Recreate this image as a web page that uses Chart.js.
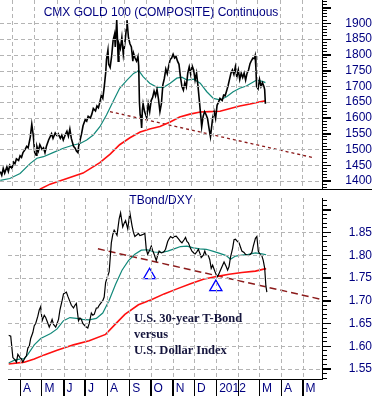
<!DOCTYPE html>
<html>
<head>
<meta charset="utf-8">
<script src="https://cdn.jsdelivr.net/npm/chart.js@4.4.0/dist/chart.umd.min.js"></script>
<style>
html,body{margin:0;padding:0;background:#fff;}
#wrap{position:relative;width:372px;height:396px;overflow:hidden;background:#fff;}
canvas{position:absolute;left:0;z-index:1;background:transparent !important;}
#c1{top:0;}
#c2{top:190px;}
#sep{position:absolute;left:0;top:189px;width:372px;height:1px;background:#000;z-index:3;}
.gv{position:absolute;width:1px;z-index:2;pointer-events:none;background:repeating-linear-gradient(to bottom,#b4b4b4 0,#b4b4b4 4px,rgba(0,0,0,0) 4px,rgba(0,0,0,0) 7px);}
.gh{position:absolute;height:1px;z-index:2;pointer-events:none;background:repeating-linear-gradient(to right,#b4b4b4 0,#b4b4b4 4px,rgba(0,0,0,0) 4px,rgba(0,0,0,0) 7px);}
.tk{position:absolute;background:#000;z-index:3;}
.t{position:absolute;font-family:"Liberation Sans",Arial,sans-serif;font-size:12px;line-height:14px;color:#000080;white-space:nowrap;text-align:center;z-index:4;}
#note{position:absolute;left:134px;top:310px;font-family:"Liberation Serif","Times New Roman",serif;font-weight:bold;font-size:12.5px;line-height:16px;color:#14143c;white-space:nowrap;z-index:4;}
#err{position:absolute;left:0;top:30px;width:300px;font:9px monospace;color:#c00;white-space:pre-wrap;word-break:break-all;z-index:9;}
</style>
</head>
<body>
<div id="wrap">
  <canvas id="c1" width="372" height="189"></canvas>
  <div id="sep"></div>
  <canvas id="c2" width="372" height="206"></canvas>
  <div class="t" style="left:0;width:322px;top:5px;">CMX GOLD 100 (COMPOSITE) Continuous</div>
  <div class="t" style="left:0;width:322px;top:193px;">TBond/DXY</div>
  <div id="note">U.S. 30-year T-Bond<br>versus<br>U.S. Dollar Index</div>
  <div id="err"></div>
</div>
<script>
const errors = [];
window.addEventListener('error', e => { errors.push('win: ' + e.message); showErrors(); });
function showErrors() { document.getElementById('err').textContent = errors.join('\n'); }

// x values are calendar days counted from 1 March 2011 (day 0)
const monthDays   = [31, 61, 92, 122, 153, 184, 214, 245, 275, 306, 337, 366, 397, 427];
const monthLabels = ['A', 'M', 'J', 'J', 'A', 'S', 'O', 'N', 'D', '2012', '', 'M', 'A', 'M'];

// ---- Gold (top panel) ----
const goldDays = [15,17,19,21,24,26,28,31,33,35,37,40,42,44,46,49,51,53,56,58,60,62,64,65,67,69,72,74,76,78,81,83,85,87,90,92,94,97,99,101,104,106,108,110,112,115,117,119,121,122,124,126,128,131,133,135,138,140,142,145,147,149,151,153,155,157,159,160,162,163,165,167,169,171,172,174,175,176,177,179,181,183,185,187,188,190,192,194,196,197,199,201,203,204,205,206,207,208,209,210,212,215,217,219,221,223,225,227,229,231,233,235,237,239,241,243,245,247,249,251,253,255,257,259,261,263,265,267,269,271,273,275,277,279,281,283,285,287,289,290,292,294,296,298,300,302,303,305,307,309,311,313,315,318,320,322,324,326,328,330,332,334,336,338,340,342,344,346,348,350,352,354,356,358,360,362,363,364,365,367,369,371,373,375,376,377];
const goldClose = [1430,1418,1440,1425,1445,1430,1450,1440,1460,1455,1470,1465,1480,1475,1490,1500,1510,1505,1540,1580,1545,1490,1482,1510,1495,1515,1500,1505,1490,1510,1530,1540,1550,1535,1552,1545,1550,1535,1545,1530,1548,1558,1542,1565,1535,1510,1505,1495,1490,1510,1530,1550,1575,1595,1590,1605,1600,1612,1630,1622,1638,1632,1650,1672,1662,1700,1745,1785,1815,1770,1760,1795,1845,1865,1825,1910,1850,1780,1835,1820,1855,1800,1835,1880,1910,1855,1835,1825,1780,1805,1790,1780,1795,1765,1650,1610,1600,1568,1625,1645,1620,1600,1645,1620,1655,1665,1685,1670,1690,1660,1620,1645,1705,1725,1755,1740,1765,1785,1790,1802,1790,1795,1780,1770,1730,1700,1688,1712,1698,1742,1762,1738,1765,1752,1720,1742,1700,1650,1600,1572,1605,1620,1610,1598,1568,1540,1560,1600,1620,1598,1640,1650,1662,1655,1672,1670,1685,1702,1722,1742,1752,1738,1762,1730,1752,1722,1742,1728,1742,1720,1742,1752,1772,1782,1790,1788,1797,1760,1700,1692,1722,1700,1712,1700,1690,1645];
const goldMa50Days = [15,28,42,56,65,74,87,101,115,124,133,142,151,160,169,178,188,197,204,210,219,229,238,247,256,263,270,279,288,297,306,315,324,333,342,351,361,365,374,377];
const goldMa50     = [1402,1408,1424,1456,1472,1477,1490,1504,1514,1519,1530,1546,1572,1609,1652,1694,1720,1741,1750,1731,1710,1697,1697,1710,1726,1729,1720,1723,1710,1683,1662,1657,1667,1683,1694,1701,1715,1720,1715,1712];
const goldMa200Days = [69,83,106,128,151,165,178,192,206,219,233,247,260,274,288,301,315,329,342,356,370,377];
const goldMa200     = [1374,1390,1408,1425,1458,1485,1515,1537,1555,1565,1573,1587,1603,1612,1619,1620,1621,1630,1638,1644,1651,1654];
const goldTrendDays = [164.8, 440.6];
const goldTrend     = [1620, 1475];
const goldMajorTicks = [1400,1450,1500,1550,1600,1650,1700,1750,1800,1850,1900,1950];
const goldLabelMax = 1900;

// ---- T-Bond / DXY ratio (bottom panel) ----
const ratioDays = [15,18,21,24,26,28,31,33,35,38,40,42,44,46,49,51,53,56,58,60,62,65,67,69,72,74,76,78,81,83,85,87,90,92,96,98,101,103,106,108,110,113,115,117,119,122,124,126,128,131,133,135,138,140,142,144,147,149,151,153,156,159,161,163,165,167,170,172,175,177,179,182,185,188,190,192,195,197,199,201,204,206,208,210,213,215,217,219,222,224,226,229,231,233,235,238,240,242,245,247,250,252,254,256,258,261,263,265,267,270,272,274,276,279,281,283,285,288,290,292,295,297,299,301,304,306,308,310,313,315,317,320,322,324,326,329,331,333,336,338,340,342,345,347,349,351,354,356,358,361,363,365,368,370,372,374,375.6,377];
const ratioValues = [1.624,1.622,1.575,1.570,1.565,1.582,1.575,1.572,1.565,1.575,1.579,1.596,1.600,1.617,1.630,1.645,1.650,1.666,1.680,1.687,1.656,1.668,1.663,1.655,1.642,1.650,1.659,1.648,1.642,1.650,1.659,1.680,1.700,1.715,1.719,1.710,1.698,1.690,1.684,1.690,1.694,1.656,1.662,1.659,1.650,1.645,1.642,1.640,1.650,1.673,1.668,1.670,1.684,1.684,1.690,1.694,1.700,1.708,1.740,1.750,1.764,1.827,1.845,1.855,1.850,1.844,1.880,1.893,1.862,1.870,1.876,1.858,1.893,1.865,1.850,1.841,1.845,1.848,1.843,1.844,1.846,1.848,1.813,1.802,1.812,1.820,1.810,1.802,1.788,1.800,1.809,1.805,1.806,1.808,1.813,1.830,1.836,1.841,1.838,1.841,1.842,1.838,1.834,1.830,1.827,1.834,1.839,1.830,1.827,1.815,1.809,1.806,1.802,1.808,1.813,1.805,1.795,1.800,1.809,1.800,1.799,1.790,1.771,1.778,1.765,1.757,1.753,1.760,1.771,1.778,1.785,1.775,1.767,1.775,1.795,1.815,1.834,1.835,1.830,1.827,1.818,1.809,1.806,1.802,1.800,1.799,1.802,1.806,1.820,1.837,1.841,1.809,1.800,1.799,1.788,1.771,1.733,1.719];
const ratioMa50Days = [15,24,33,37,42,51,60,74,83,92,101,110,119,128,138,147,156,165,174,183,192,201,210,219,229,238,247,256,265,274,283,292,301,311,320,326,333,342,351,361,370,376];
const ratioMa50     = [1.563,1.570,1.572,1.572,1.582,1.603,1.617,1.628,1.638,1.656,1.663,1.661,1.659,1.658,1.661,1.673,1.701,1.736,1.767,1.788,1.802,1.811,1.812,1.807,1.806,1.809,1.814,1.819,1.820,1.816,1.814,1.813,1.809,1.804,1.799,1.791,1.798,1.800,1.802,1.805,1.803,1.801];
const ratioMa200Days = [15,37,51,65,83,106,128,151,165,178,197,215,233,251,270,288,306,324,342,361,374,376];
const ratioMa200     = [1.561,1.565,1.572,1.581,1.591,1.603,1.612,1.626,1.649,1.670,1.691,1.702,1.715,1.726,1.737,1.747,1.753,1.758,1.762,1.765,1.770,1.770];
const ratioTrendDays = [140.2, 456];
const ratioTrend     = [1.814, 1.702];
const markerDays   = [212.6, 305.5];
const markerValues = [1.756, 1.730];
const ratioMajorTicks = [155,160,165,170,175,180,185,190].map(v => v / 100);
const ratioLabelMax = 1.85;

// ---- helpers ----
const FONT = '"Liberation Sans", Arial, sans-serif';
const X_MIN = 14.6, X_MAX = 454.3;
const pts = (xs, ys) => xs.map((x, i) => ({x: x, y: ys[i]}));
const range = (a, b, step, div) => { const r = []; for (let v = a; v <= b; v += step) r.push(v / div); return r; };

function xScale(bottom) {
  return {
    type: 'linear', position: 'bottom', min: X_MIN, max: X_MAX,
    afterBuildTicks: s => { s.ticks = monthDays.map(v => ({value: v})); },
    afterFit: s => { s.height = bottom ? 17 : 0; s.paddingLeft = 0; s.paddingRight = 0; },
    grid: { display: true, drawOnChartArea: false, lineWidth: 1,
            drawTicks: bottom, tickLength: 17, tickColor: '#000', tickWidth: 1, tickBorderDash: [] },
    border: { display: bottom, color: '#000', width: 1 },
    ticks: { display: bottom, autoSkip: false, maxRotation: 0, minRotation: 0, align: 'start',
             labelOffset: 3, padding: -15, color: '#000080', font: {family: FONT, size: 12},
             callback: (v, i) => monthLabels[i] }
  };
}
function yScales(min, max, majorTicks, minorTicks, labelMax, fmt, pad) {
  return {
    yMinor: {
      type: 'linear', position: 'right', weight: 0, min: min, max: max,
      afterBuildTicks: s => { s.ticks = minorTicks.map(v => ({value: v})); },
      afterFit: s => { s.width = 5; s.paddingTop = 0; s.paddingBottom = 0; },
      grid: { drawOnChartArea: false, drawTicks: true, tickLength: 5, tickColor: '#000', tickWidth: 1, tickBorderDash: [] },
      border: { display: true, color: '#000', width: 1 },
      ticks: { display: false }
    },
    y: {
      type: 'linear', position: 'right', weight: 1, min: min, max: max,
      afterBuildTicks: s => { s.ticks = majorTicks.map(v => ({value: v})); },
      afterFit: s => { s.width = 45; s.paddingTop = 0; s.paddingBottom = 0; },
      grid: { drawOnChartArea: false, lineWidth: 1,
              drawTicks: true, tickLength: 4, tickColor: '#000', tickWidth: 1, tickBorderDash: [] },
      border: { display: false },
      ticks: { display: true, autoSkip: false, crossAlign: 'far', padding: pad, color: '#000080',
               font: {family: FONT, size: 12},
               callback: v => (v > labelMax + 1e-9) ? '' : fmt(v) }
    }
  };
}
const lineDs = (data, color, width, dash) => {
  const ds = { type: 'line', data: data, borderColor: color, borderWidth: width,
               pointRadius: 0, tension: 0, fill: false, yAxisID: 'y', xAxisID: 'x' };
  if (dash) ds.borderDash = dash;
  return ds;
};
const common = {
  responsive: false, animation: false, devicePixelRatio: 1, events: [],
  layout: { padding: 0 },
  plugins: { legend: { display: false }, tooltip: { enabled: false }, title: { display: false } }
};

// dashed grid and axis ticks, positioned from the chart's own scales
function addGrid(chart, canvasTop, majorTicks, labelMax, monthTicks) {
  const wrap = document.getElementById('wrap');
  const a = chart.chartArea, xs = chart.scales.x, ys = chart.scales.y;
  const el = (cls, l, t, w, h) => {
    const d = document.createElement('div');
    d.className = cls;
    d.style.left = l + 'px'; d.style.top = t + 'px';
    if (w !== null) d.style.width = w + 'px';
    if (h !== null) d.style.height = h + 'px';
    wrap.appendChild(d);
  };
  monthDays.forEach(day => {
    const x = Math.round(xs.getPixelForValue(day));
    if (x <= a.left || x >= a.right) return;
    el('gv', x, canvasTop + Math.round(a.top), null, Math.round(a.bottom - a.top));
    if (monthTicks) el('tk', x, canvasTop + Math.round(a.bottom), 1, 17);
  });
  majorTicks.forEach(v => {
    const y = Math.round(ys.getPixelForValue(v));
    if (v <= labelMax + 1e-9) el('gh', Math.round(a.left), canvasTop + y, Math.round(a.right - a.left), null);
    el('tk', Math.round(a.right), canvasTop + y, 9, 1);
  });
}
function makeChart(id, cfg) {
  let ch = null;
  try { ch = new Chart(document.getElementById(id), cfg); }
  catch (e) { errors.push(id + ': ' + e.message); ch = Chart.getChart(id); }
  return ch;
}

// ---- top chart: gold ----
const chartTop = makeChart('c1', {
  type: 'line',
  data: { datasets: [
    lineDs(pts(goldDays, goldClose), '#000000', 1.6),
    lineDs(pts(goldMa50Days, goldMa50), '#12897a', 1.2),
    lineDs(pts(goldMa200Days, goldMa200), '#ff1010', 1.6),
    lineDs(pts(goldTrendDays, goldTrend), '#8b1a1a', 1.3, [3, 3])
  ]},
  options: Object.assign({}, common, {
    scales: Object.assign({ x: xScale(false) },
      yScales(1374.6, 1973.9, goldMajorTicks, range(1380, 1970, 10, 1), goldLabelMax, v => String(Math.round(v)), 8))
  })
});
try { addGrid(chartTop, 0, goldMajorTicks, goldLabelMax, false); } catch (e) { errors.push('grid1: ' + e.message); }

// ---- bottom chart: T-Bond / DXY ----
const chartBottom = makeChart('c2', {
  type: 'line',
  data: { datasets: [
    { type: 'line', data: pts(markerDays, markerValues), showLine: false, pointStyle: 'triangle',
      pointRadius: 7, pointBorderColor: '#0000ff', pointBackgroundColor: 'rgba(0,0,0,0)',
      pointBorderWidth: 1.3, yAxisID: 'y', xAxisID: 'x' },
    lineDs(pts(ratioDays, ratioValues), '#000000', 1.2),
    lineDs(pts(ratioMa50Days, ratioMa50), '#12897a', 1.2),
    lineDs(pts(ratioMa200Days, ratioMa200), '#ff1010', 1.6),
    lineDs(pts(ratioTrendDays, ratioTrend), '#8b1a1a', 1.5, [7, 4])
  ]},
  options: Object.assign({}, common, {
    scales: Object.assign({ x: xScale(true) },
      yScales(1.528, 1.925, ratioMajorTicks, range(153, 192, 1, 100), ratioLabelMax, v => v.toFixed(2), 11))
  })
});
try { addGrid(chartBottom, 190, ratioMajorTicks, ratioLabelMax, true); } catch (e) { errors.push('grid2: ' + e.message); }
if (errors.length) showErrors();
</script>
</body>
</html>
